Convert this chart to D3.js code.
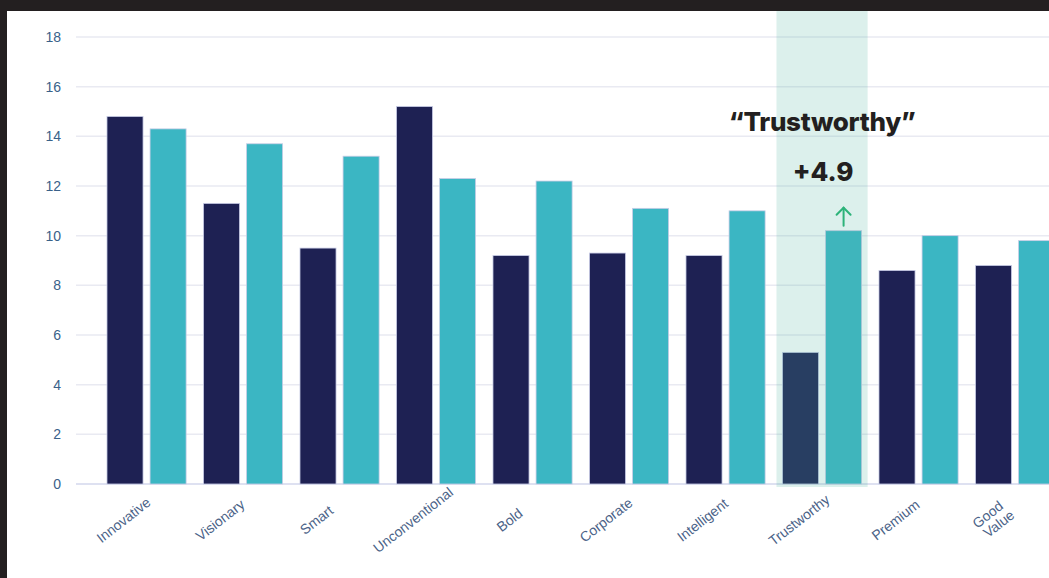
<!DOCTYPE html>
<html>
<head>
<meta charset="utf-8">
<script src="https://cdn.jsdelivr.net/npm/d3@7"></script>
<style>
  html, body { margin: 0; padding: 0; background: #231f20; }
  svg { display: block; }
</style>
</head>
<body>
<svg id="chart" width="1049" height="578"></svg>
<script>
const categories = ['Innovative', 'Visionary', 'Smart', 'Unconventional', 'Bold',
  'Corporate', 'Intelligent', 'Trustworthy', 'Premium', 'Good Value'];
const seriesBefore = [14.8, 11.3, 9.5, 15.2, 9.2, 9.3, 9.2, 5.3, 8.6, 8.8];
const seriesAfter = [14.3, 13.7, 13.2, 12.3, 12.2, 11.1, 11.0, 10.2, 10.0, 9.8];
const yTicks = [0, 2, 4, 6, 8, 10, 12, 14, 16, 18];
const highlight = 'Trustworthy';
const highlightTitle = '\u201cTrustworthy\u201d';
const highlightDelta = '+4.9';

const width = 1049;
const height = 578;
const svg = d3.select('#chart');

// white panel inside the dark frame
svg.append('rect')
  .attr('x', 7).attr('y', 11)
  .attr('width', width - 7).attr('height', height - 11)
  .attr('fill', '#ffffff');

const x = d3.scaleBand()
  .domain(categories)
  .range([98.3, 98.3 + 96.5 * categories.length])
  .paddingInner(0.18)
  .paddingOuter(0.09);

const xSub = d3.scaleBand()
  .domain(['before', 'after'])
  .range([0, x.bandwidth()])
  .paddingInner(0.163);

const y = d3.scaleLinear()
  .domain([0, 18])
  .range([484, 37]);

// gridlines
svg.append('g')
  .selectAll('line')
  .data(yTicks)
  .join('line')
  .attr('x1', 76).attr('x2', width)
  .attr('y1', (d) => y(d)).attr('y2', (d) => y(d))
  .attr('stroke', (d) => d === 0 ? '#d3d7ec' : '#e9eaf2')
  .attr('stroke-width', 1.5);

// y tick labels
svg.append('g')
  .selectAll('text')
  .data(yTicks)
  .join('text')
  .attr('x', 61)
  .attr('y', (d) => y(d))
  .attr('dy', '0.36em')
  .attr('text-anchor', 'end')
  .attr('font-family', 'Liberation Sans, Arial, sans-serif')
  .attr('font-size', 14)
  .attr('fill', '#3a6189')
  .text((d) => d);

const rows = categories.map((c, i) => ({
  category: c,
  values: [
    { key: 'before', value: seriesBefore[i] },
    { key: 'after', value: seriesAfter[i] },
  ],
}));

const colors = { before: '#1e2153', after: '#3bb6c3' };

const groups = svg.append('g')
  .selectAll('g')
  .data(rows)
  .join('g')
  .attr('transform', (d) => `translate(${x(d.category)},0)`);

groups.selectAll('rect')
  .data((d) => d.values)
  .join('rect')
  .attr('x', (d) => xSub(d.key))
  .attr('y', (d) => y(d.value))
  .attr('width', xSub.bandwidth())
  .attr('height', (d) => y(0) - y(d.value))
  .attr('fill', (d) => colors[d.key])
  .attr('stroke', '#c9cde6')
  .attr('stroke-width', 0.8);

// highlight band over the chosen category
const hx = x(highlight) - 6;
svg.append('rect')
  .attr('x', hx)
  .attr('y', 11)
  .attr('width', x.bandwidth() + 12)
  .attr('height', y(0) + 3 - 11)
  .attr('fill', 'rgb(80,180,160)')
  .attr('fill-opacity', 0.2);

const hc = x(highlight) + x.bandwidth() / 2;

svg.append('text')
  .attr('x', hc)
  .attr('y', 131)
  .attr('text-anchor', 'middle')
  .attr('font-family', 'Inter, Liberation Sans, Arial, sans-serif')
  .attr('font-weight', 800)
  .attr('font-size', 26)
  .attr('letter-spacing', -0.3)
  .attr('fill', '#231f20')
  .text(highlightTitle);

svg.append('text')
  .attr('x', hc + 1)
  .attr('y', 181)
  .attr('text-anchor', 'middle')
  .attr('font-family', 'Inter, Liberation Sans, Arial, sans-serif')
  .attr('font-weight', 800)
  .attr('font-size', 26)
  .attr('fill', '#231f20')
  .text(highlightDelta);

// up arrow above the "after" bar
const ax = x(highlight) + xSub('after') + xSub.bandwidth() / 2;
const ai = categories.indexOf(highlight);
const aBottom = y(seriesAfter[ai]) - 5;
const aTop = aBottom - 18;
const arrow = svg.append('g')
  .attr('stroke', '#2db37a')
  .attr('stroke-width', 2)
  .attr('fill', 'none')
  .attr('stroke-linecap', 'round');
arrow.append('line')
  .attr('x1', ax).attr('x2', ax)
  .attr('y1', aBottom).attr('y2', aTop);
arrow.append('path')
  .attr('d', `M${ax - 7},${aTop + 7}L${ax},${aTop}L${ax + 7},${aTop + 7}`);

// rotated category labels, centred below each group
const labels = svg.append('g')
  .selectAll('text')
  .data(categories)
  .join('text')
  .attr('transform', (d) => `translate(${x(d) + x.bandwidth() / 2 - 23},520) rotate(-38)`)
  .attr('text-anchor', 'middle')
  .attr('font-family', 'Liberation Sans, Arial, sans-serif')
  .attr('font-size', 14)
  .attr('fill', '#4a6287');

labels.each(function (d) {
  const t = d3.select(this);
  const parts = d.split(' ');
  const start = 0.35 - (parts.length - 1) * 0.5;
  parts.forEach((p, i) => {
    t.append('tspan')
      .attr('x', i * 3)
      .attr('dy', i === 0 ? `${start}em` : '1.0em')
      .text(p);
  });
});
</script>
</body>
</html>
